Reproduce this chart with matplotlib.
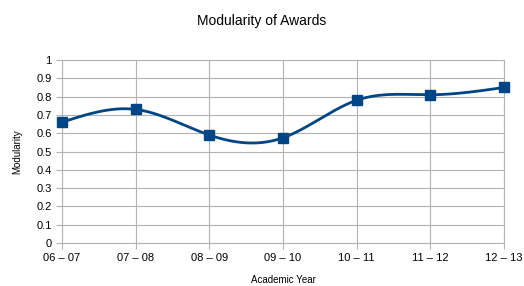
import numpy as np
import matplotlib
matplotlib.use("Agg")
import matplotlib.pyplot as plt

years = ["06 – 07", "07 – 08", "08 – 09", "09 – 10", "10 – 11", "11 – 12", "12 – 13"]
modularity = [0.66, 0.73, 0.59, 0.575, 0.78, 0.81, 0.85]

plt.rcParams['font.family'] = ['Liberation Sans', 'DejaVu Sans']

def natural_spline(x, y, xs):
    x = np.asarray(x, float); y = np.asarray(y, float)
    n = len(x)
    h = np.diff(x)
    A = np.zeros((n, n)); b = np.zeros(n)
    A[0, 0] = 1; A[-1, -1] = 1
    for i in range(1, n - 1):
        A[i, i - 1] = h[i - 1]
        A[i, i] = 2 * (h[i - 1] + h[i])
        A[i, i + 1] = h[i]
        b[i] = 6 * ((y[i + 1] - y[i]) / h[i] - (y[i] - y[i - 1]) / h[i - 1])
    M = np.linalg.solve(A, b)
    out = np.empty_like(xs)
    for k, t in enumerate(xs):
        i = min(max(np.searchsorted(x, t) - 1, 0), n - 2)
        a = x[i + 1] - t; c = t - x[i]
        out[k] = (M[i] * a**3 + M[i + 1] * c**3) / (6 * h[i]) + \
                 (y[i] / h[i] - M[i] * h[i] / 6) * a + (y[i + 1] / h[i] - M[i + 1] * h[i] / 6) * c
    return out

x = np.arange(len(years))
xs = np.linspace(0, len(years) - 1, 400)
ys = natural_spline(x, modularity, xs)

fig = plt.figure(figsize=(5.24, 2.86), dpi=100)
ax = fig.add_axes([62/524, 43/286, 442/524, 183/286])
ax.plot(xs, ys, color="#004586", lw=2, zorder=3)
ax.plot(x, modularity, ls="none", marker="s", ms=7, color="#004586", zorder=4, clip_on=False)

ax.set_xlim(0, len(years) - 1)
ax.set_ylim(0, 1)
ax.set_xticks(x)
ax.set_xticklabels(years)
ax.set_yticks(np.arange(0, 1.01, 0.1))
ax.set_yticklabels(["0", "0.1", "0.2", "0.3", "0.4", "0.5", "0.6", "0.7", "0.8", "0.9", "1"])
ax.grid(True, color="#b3b3b3", lw=0.8)
ax.set_axisbelow(True)
for s in ax.spines.values():
    s.set_color("#b3b3b3")
ax.tick_params(colors="#b3b3b3", labelcolor="black", labelsize=8, length=4, width=0.8)
ax.set_xlabel("Academic Year", fontsize=7, labelpad=8)
ax.set_ylabel("Modularity", fontsize=7, labelpad=10)
fig.suptitle("Modularity of Awards", fontsize=10, y=0.95)

fig.savefig("out.png", dpi=100)
